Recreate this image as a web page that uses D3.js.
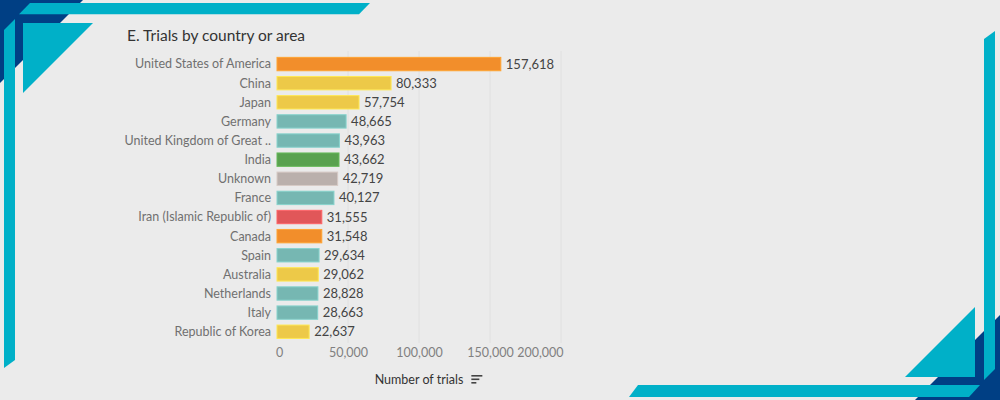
<!DOCTYPE html>
<html><head><meta charset="utf-8">
<script src="https://cdn.jsdelivr.net/npm/d3@7"></script>
<style>
html,body{margin:0;padding:0;background:#ebebeb;}
svg{display:block;}
</style></head>
<body>
<svg id="chart" width="1000" height="400"></svg>
<script>
const categories = ["United States of America","China","Japan","Germany","United Kingdom of Great ..","India","Unknown","France","Iran (Islamic Republic of)","Canada","Spain","Australia","Netherlands","Italy","Republic of Korea"];
const values = [157618,80333,57754,48665,43963,43662,42719,40127,31555,31548,29634,29062,28828,28663,22637];
const regions = ["Americas","Western Pacific","Western Pacific","Europe","Europe","South-East Asia","Unknown","Europe","Eastern Mediterranean","Americas","Europe","Western Pacific","Europe","Europe","Western Pacific"];
const regionNames = ["Americas","Western Pacific","Europe","South-East Asia","Unknown","Eastern Mediterranean"];
const regionColors = ["#f28e2b","#edc948","#76b7b2","#59a14f","#bab0ac","#e15759"];
const xTicks = [0,50000,100000,150000,200000];
const title = "E. Trials by country or area";
const xTitle = "Number of trials";

const svg = d3.select("#chart");
const FONT = "Lato, 'Open Sans', sans-serif";

// background
svg.append("rect").attr("width",1000).attr("height",400).attr("fill","#ebebeb");

// decorations
const deco = svg.append("g");
const poly = (pts, fill) => deco.append("polygon").attr("points", pts.map(p=>p.join(",")).join(" ")).attr("fill", fill);
const NAVY = "#003f84", CYAN = "#00b0c8";
poly([[0,0],[83,0],[0,83]], NAVY);
poly([[30,3],[370,3],[359,14.3],[19,14.3]], CYAN);
poly([[4,30],[15,19],[15,360],[4,368]], CYAN);
poly([[23,23],[93,23],[23,93]], CYAN);
poly([[915,400],[1000,400],[1000,315]], NAVY);
poly([[984,39],[995,31],[995,369],[984,380]], CYAN);
poly([[638,385],[980,385],[969,397],[629,397]], CYAN);
poly([[905,377],[975,377],[975,307]], CYAN);

// scales
const x = d3.scaleLinear().domain([0,200000]).range([277,561]);
const y = d3.scaleBand().domain(categories).range([54.5,341.3]).paddingInner(0.3).paddingOuter(0.15);
const color = d3.scaleOrdinal().domain(regionNames).range(regionColors);

// title
svg.append("text").attr("x",127).attr("y",41).text(title)
  .attr("font-family",FONT).attr("font-size",15.5).attr("fill","#333");

// gridlines
svg.append("g").selectAll("line").data(xTicks.slice(1)).join("line")
  .attr("x1",d=>x(d)).attr("x2",d=>x(d)).attr("y1",51).attr("y2",343)
  .attr("stroke","#e0e0e0").attr("stroke-width",1);

// bars
const rows = categories.map((c,i)=>({c, v:values[i], r:regions[i]}));
svg.append("g").selectAll("rect").data(rows).join("rect")
  .attr("x",x(0)).attr("y",d=>y(d.c))
  .attr("width",d=>x(d.v)-x(0)).attr("height",y.bandwidth())
  .attr("fill",d=>color(d.r))
  .attr("stroke",d=>d3.color(color(d.r)).brighter(0.4)).attr("stroke-width",1);

// category labels
svg.append("g").selectAll("text").data(rows).join("text")
  .attr("x",271).attr("y",d=>y(d.c)+y.bandwidth()/2).attr("dy","0.35em")
  .attr("text-anchor","end").text(d=>d.c)
  .attr("font-family",FONT).attr("font-size",12.5).attr("fill","#707070");

// value labels
const fmt = d3.format(",");
svg.append("g").selectAll("text").data(rows).join("text")
  .attr("x",d=>x(d.v)+5).attr("y",d=>y(d.c)+y.bandwidth()/2).attr("dy","0.35em")
  .text(d=>fmt(d.v))
  .attr("font-family",FONT).attr("font-size",13).attr("fill","#444");

// x axis
const axis = d3.axisBottom(x).tickValues(xTicks).tickSize(0).tickPadding(0).tickFormat(fmt);
const ag = svg.append("g").attr("transform","translate(0,348)").call(axis);
ag.select(".domain").remove();
ag.selectAll("text").attr("font-family",FONT).attr("font-size",12.5).attr("fill","#808080").attr("dy","0.71em")
  .attr("text-anchor",(d,i)=> i===xTicks.length-1 ? "end" : "middle")
  .attr("x",(d,i)=> i===xTicks.length-1 ? 2 : (i===0?2:0));

// x title + sort icon
const xt = svg.append("text").attr("x",419).attr("y",384).attr("text-anchor","middle").text(xTitle)
  .attr("font-family",FONT).attr("font-size",12.5).attr("fill","#333");
const bb = xt.node().getBBox();
const ix = bb.x + bb.width + 8;
[[0,11],[0,8],[0,5]].forEach((s,i)=>{
  svg.append("rect").attr("x",ix).attr("y",375+i*3.5).attr("width",s[1]).attr("height",1.6).attr("fill","#444");
});
</script>
</body></html>
